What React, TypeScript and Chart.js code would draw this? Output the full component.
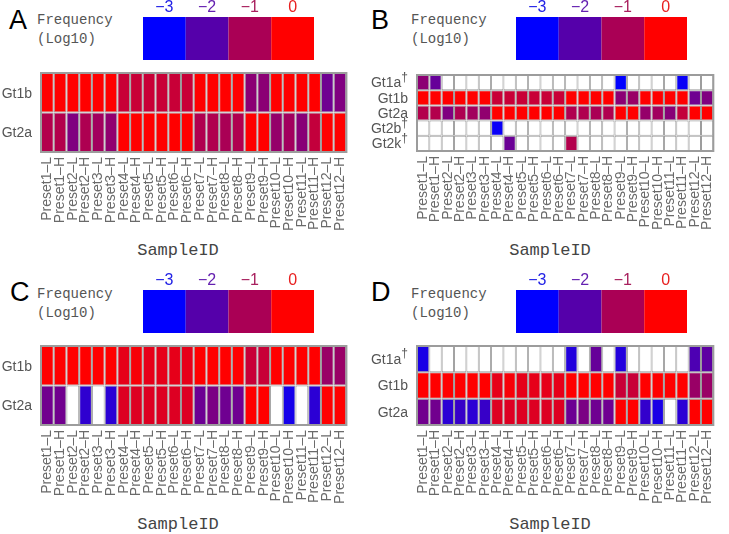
import React, { useEffect, useRef } from 'react';
import { Chart, registerables } from 'chart.js';

Chart.register(...registerables);

// ---------- data ----------
const samples = [
  'Preset1–L', 'Preset1–H', 'Preset2–L', 'Preset2–H', 'Preset3–L', 'Preset3–H',
  'Preset4–L', 'Preset4–H', 'Preset5–L', 'Preset5–H', 'Preset6–L', 'Preset6–H',
  'Preset7–L', 'Preset7–H', 'Preset8–L', 'Preset8–H', 'Preset9–L', 'Preset9–H',
  'Preset10–L', 'Preset10–H', 'Preset11–L', 'Preset11–H', 'Preset12–L', 'Preset12–H',
];

const legendTicks = ['−3', '−2', '−1', '0'];
const legendValues = [-3, -2, -1, 0];
const legendTickColors = ['#2222e6', '#6420b0', '#a8205e', '#e82020'];

// Panel A
const rowsA = ['Gt1b', 'Gt2a'];
const aGt1b = [0, 0, 0, 0, 0, 0, -0.65, -0.65, -0.65, -0.65, -0.65, -0.65, 0, 0, 0, 0, -1.36, -1.36, 0, 0, 0, 0, -1.7, -1.5];
const aGt2a = [-0.9, -0.9, -1.5, -0.95, -1.1, -1.3, 0, 0, 0, 0, 0, 0, -0.93, -0.93, -1.0, -0.93, 0, 0, -1.25, -1.1, -1.4, -0.7, 0, 0];

// Panel B
const rowsB = ['Gt1a†', 'Gt1b', 'Gt2a', 'Gt2b†', 'Gt2k†'];
const bGt1a = [-1.35, -1.8, null, null, null, null, null, null, null, null, null, null, null, null, null, null, -3, null, null, null, null, -2.9, null, null];
const bGt1b = [0, 0, 0, 0, 0, 0, -0.65, -0.65, -0.65, -0.65, -0.65, -0.65, 0, 0, 0, 0, -1.36, -1.2, 0, 0, 0, 0, -1.7, -1.5];
const bGt2a = [-0.9, -0.9, -1.5, -0.95, -1.1, -1.3, 0, 0, 0, 0, 0, 0, -0.93, -0.93, -1.0, -0.93, 0, 0, -1.25, -1.1, -1.4, -0.7, 0, 0];
const bGt2b = [null, null, null, null, null, null, -2.9, null, null, null, null, null, null, null, null, null, null, null, null, null, null, null, null, null];
const bGt2k = [null, null, null, null, null, null, null, -1.75, null, null, null, null, -0.9, null, null, null, null, null, null, null, null, null, null, null];

// Panel C
const rowsC = ['Gt1b', 'Gt2a'];
const cGt1b = [0, 0, 0, 0, 0, 0, -0.3, -0.1, -0.3, -0.3, -0.3, -0.3, 0, 0, 0, 0, -0.65, -0.65, 0, 0, 0, 0, -1.2, -1.2];
const cGt2a = [-1.67, -1.67, null, -2.45, null, -2.5, -0.4, -0.4, -0.4, -0.4, -0.4, -0.4, -1.73, -1.55, -1.7, -1.7, 0, 0, null, -2.75, null, -2.5, 0, 0];

// Panel D
const rowsD = ['Gt1a†', 'Gt1b', 'Gt2a'];
const dGt1a = [-2.7, null, null, null, null, null, null, null, null, null, null, null, -2.6, null, -1.8, null, -2.6, null, null, null, null, null, -2.1, -1.9];
const dGt1b = [0, 0, 0, 0, 0, 0, -0.3, -0.1, -0.3, -0.3, -0.3, -0.3, 0, 0, 0, 0, -0.65, -0.65, 0, 0, 0, 0, -1.2, -1.2];
const dGt2a = [-1.67, -1.67, -2.5, -2.35, -2.5, -2.35, -0.4, -0.4, -0.4, -0.4, -0.4, -0.4, -1.73, -1.55, -1.7, -1.7, 0, 0, -2.4, -2.7, null, -2.5, 0, 0];

// ---------- style ----------
const SANS = '"Liberation Sans", Arial, sans-serif';
const MONO = '"Liberation Mono", "Courier New", monospace';
const CELL_GRAY = '#9c9c9c';

function colorFor(v: number | null): string {
  if (v === null || v === undefined) return '#ffffff';
  const t = Math.max(0, Math.min(1, (v + 3) / 3));
  return `rgb(${Math.round(255 * t)},0,${Math.round(255 * (1 - t))})`;
}

type HeatProps = {
  rows: string[];
  values: (number | null)[][];
  left: number; top: number; width: number; height: number;
  yAxisW: number; xAxisH: number; padRight: number; padTop: number;
};

function Heatmap(p: HeatProps) {
  const ref = useRef<HTMLCanvasElement>(null);
  useEffect(() => {
    const rowLabels = {
      id: 'rowLabels',
      afterDraw(chart: any) {
        const ctx = chart.ctx;
        const y = chart.scales.y;
        const a = chart.chartArea;
        ctx.save();
        ctx.strokeStyle = CELL_GRAY;
        ctx.lineWidth = 2;
        ctx.strokeRect(a.left, a.top, a.right - a.left, a.bottom - a.top);
        ctx.fillStyle = '#555555';
        ctx.textBaseline = 'middle';
        ctx.textAlign = 'right';
        p.rows.forEach((name, i) => {
          const cy = y.getPixelForValue(i + 0.5);
          const xr = a.left - 9;
          const dag = name.endsWith('†');
          const base = dag ? name.slice(0, -1) : name;
          let x = xr;
          if (dag) {
            ctx.font = `12px ${SANS}`;
            const dw = ctx.measureText('†').width;
            ctx.fillText('†', xr, cy - 5);
            x = xr - dw;
          }
          ctx.font = `14px ${SANS}`;
          ctx.fillText(base, x, cy + 1);
        });
        ctx.restore();
      },
    };
    const chart = new Chart(ref.current as HTMLCanvasElement, {
      type: 'bar',
      data: {
        labels: samples,
        datasets: p.rows.map((name, i) => ({
          label: name,
          data: p.values[i].map(() => [i, i + 1]) as any,
          backgroundColor: p.values[i].map(colorFor),
          borderColor: CELL_GRAY,
          borderWidth: 1,
          borderSkipped: false,
          barPercentage: 1,
          categoryPercentage: 1,
          inflateAmount: 0,
        })),
      },
      options: {
        responsive: false,
        animation: false,
        layout: { padding: { left: 0, right: p.padRight, top: p.padTop, bottom: 0 } },
        plugins: { legend: { display: false }, tooltip: { enabled: false } },
        scales: {
          x: {
            stacked: true,
            grid: { display: false, drawTicks: false },
            border: { display: false },
            ticks: {
              autoSkip: false,
              minRotation: 90,
              maxRotation: 90,
              padding: 5,
              color: '#6a6a6a',
              font: { family: SANS, size: 14 },
            },
            afterFit: (s: any) => { s.height = p.xAxisH; },
          },
          y: {
            stacked: false,
            min: 0,
            max: p.rows.length,
            reverse: true,
            grid: { display: false, drawTicks: false },
            border: { display: false },
            ticks: { display: false },
            afterFit: (s: any) => { s.width = p.yAxisW; },
          },
        },
      } as any,
      plugins: [rowLabels],
    });
    return () => chart.destroy();
  }, []);
  return (
    <div style={{ position: 'absolute', left: p.left, top: p.top, width: p.width, height: p.height }}>
      <canvas ref={ref} width={p.width} height={p.height} style={{ display: 'block' }} />
    </div>
  );
}

function Legend({ left, top }: { left: number; top: number }) {
  const ref = useRef<HTMLCanvasElement>(null);
  useEffect(() => {
    const chart = new Chart(ref.current as HTMLCanvasElement, {
      type: 'bar',
      data: {
        labels: legendTicks,
        datasets: [{
          data: legendValues.map(() => 1),
          backgroundColor: legendValues.map(colorFor),
          borderWidth: 0,
          barPercentage: 1,
          categoryPercentage: 1,
          inflateAmount: 0,
        }],
      },
      options: {
        responsive: false,
        animation: false,
        layout: { padding: 0 },
        plugins: { legend: { display: false }, tooltip: { enabled: false } },
        scales: {
          x: {
            position: 'top',
            grid: { display: false, drawTicks: false },
            border: { display: false },
            ticks: {
              padding: 0,
              color: (c: any) => legendTickColors[c.index],
              font: { family: SANS, size: 16 },
            },
            afterFit: (s: any) => { s.height = 17; },
          },
          y: { display: false, min: 0, max: 1 },
        },
      } as any,
    });
    return () => chart.destroy();
  }, []);
  return (
    <div style={{ position: 'absolute', left, top, width: 171, height: 60 }}>
      <canvas ref={ref} width={171} height={60} style={{ display: 'block' }} />
    </div>
  );
}

function Texts({ letter, lx, ly, fx, fy, sx, sy }: { letter: string; lx: number; ly: number; fx: number; fy: number; sx: number; sy: number }) {
  return (
    <>
      <div style={{ position: 'absolute', left: lx, top: ly, font: `27px ${SANS}`, lineHeight: '27px', color: '#000' }}>{letter}</div>
      <div style={{ position: 'absolute', left: fx, top: fy, font: `14px ${MONO}`, lineHeight: '19px', color: '#555', whiteSpace: 'pre' }}>
        <div>Frequency</div>
        <div>(Log10)</div>
      </div>
      <div style={{ position: 'absolute', left: sx - 100, top: sy, width: 200, textAlign: 'center', font: `17px ${MONO}`, lineHeight: '20px', color: '#444' }}>SampleID</div>
    </>
  );
}

export default function App() {
  return (
    <div style={{ position: 'fixed', left: 0, top: 0, width: 729, height: 534, background: '#fff', overflow: 'hidden' }}>
      <Texts letter="A" lx={9} ly={7} fx={37} fy={11} sx={178} sy={241} />
      <Texts letter="B" lx={371} ly={7} fx={411} fy={11} sx={550} sy={241} />
      <Texts letter="C" lx={10} ly={279} fx={37} fy={285} sx={178} sy={515} />
      <Texts letter="D" lx={371} ly={279} fx={411} fy={285} sx={550} sy={515} />

      <Legend left={143} top={0} />
      <Legend left={516} top={0} />
      <Legend left={143} top={273} />
      <Legend left={516} top={273} />

      <Heatmap rows={rowsA} values={[aGt1b, aGt2a]} left={0} top={68} width={362} height={170} yAxisW={41} xAxisH={86} padRight={7} padTop={5} />
      <Heatmap rows={rowsB} values={[bGt1a, bGt1b, bGt2a, bGt2b, bGt2k]} left={364} top={70} width={365} height={170} yAxisW={53} xAxisH={89} padRight={2} padTop={5} />
      <Heatmap rows={rowsC} values={[cGt1b, cGt2a]} left={0} top={341} width={362} height={170} yAxisW={41} xAxisH={86} padRight={7} padTop={5} />
      <Heatmap rows={rowsD} values={[dGt1a, dGt1b, dGt2a]} left={364} top={341} width={365} height={170} yAxisW={53} xAxisH={86} padRight={2} padTop={5} />
    </div>
  );
}
